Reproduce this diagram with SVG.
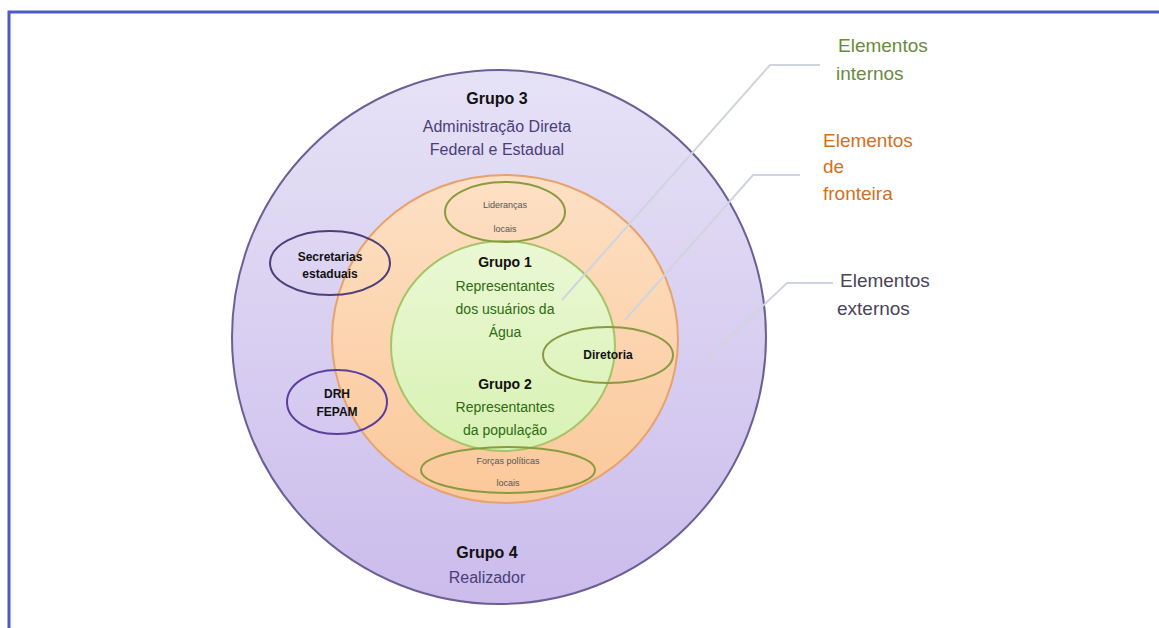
<svg xmlns="http://www.w3.org/2000/svg" width="1159" height="628" viewBox="0 0 1159 628">
<defs>
<linearGradient id="gPurple" x1="0" y1="0" x2="0" y2="1">
<stop offset="0" stop-color="#e6e2f6"/>
<stop offset="1" stop-color="#cbbcec"/>
</linearGradient>
<linearGradient id="gOrange" x1="0" y1="0" x2="0" y2="1">
<stop offset="0" stop-color="#fde0c4"/>
<stop offset="1" stop-color="#fbc89a"/>
</linearGradient>
<linearGradient id="gGreen" x1="0" y1="0" x2="0" y2="1">
<stop offset="0" stop-color="#eaf8d4"/>
<stop offset="1" stop-color="#d8f2b4"/>
</linearGradient>
</defs>
<style>
text{font-family:"Liberation Sans",Arial,sans-serif;text-anchor:middle}
.hd{font-size:16px;fill:#111;font-weight:bold}
.pu{font-size:16px;fill:#4a3e78}
.gr{font-size:14px;fill:#2f6a12}
.bk{font-size:12px;fill:#111;font-weight:bold}
.sm{font-size:9px;fill:#555}
.lbl{font-size:19px;text-anchor:start}
.conn{fill:none;stroke:#d0d4de;stroke-width:2}
</style>
<rect x="0" y="0" width="1159" height="628" fill="#ffffff"/>
<path d="M9 628 V12 H1159" fill="none" stroke="#4d5cc4" stroke-width="3"/>

<g id="grupo3-4">
<circle cx="499" cy="337" r="267" fill="url(#gPurple)" stroke="#6d5f94" stroke-width="2"/>
<text class="hd" x="497" y="104">Grupo 3</text>
<text class="pu" x="497" y="132">Administração Direta</text>
<text class="pu" x="497" y="155">Federal e Estadual</text>
<text class="hd" x="487" y="558">Grupo 4</text>
<text class="pu" x="487" y="583">Realizador</text>
</g>

<g id="fronteira">
<ellipse cx="505" cy="339" rx="173" ry="164" fill="url(#gOrange)" stroke="#e7a26e" stroke-width="2"/>
</g>

<g id="grupo1-2">
<ellipse cx="503" cy="346" rx="112" ry="105" fill="url(#gGreen)" stroke="#a6c466" stroke-width="2"/>
<text class="hd" x="505" y="267" style="font-size:14px">Grupo 1</text>
<text class="gr" x="505" y="291">Representantes</text>
<text class="gr" x="505" y="314">dos usuários da</text>
<text class="gr" x="505" y="337">Água</text>
<text class="hd" x="505" y="389" style="font-size:14px">Grupo 2</text>
<text class="gr" x="505" y="412">Representantes</text>
<text class="gr" x="505" y="435">da população</text>
</g>

<g id="liderancas">
<ellipse cx="505" cy="212" rx="60" ry="30" fill="none" stroke="#8a9a40" stroke-width="2"/>
<text class="sm" x="505" y="208">Lideranças</text>
<text class="sm" x="505" y="232">locais</text>
</g>

<g id="secretarias">
<ellipse cx="330" cy="263" rx="60" ry="32" fill="none" stroke="#4e3f78" stroke-width="2"/>
<text class="bk" x="330" y="261">Secretarias</text>
<text class="bk" x="330" y="278">estaduais</text>
</g>

<g id="diretoria">
<ellipse cx="608" cy="355" rx="65" ry="28" fill="none" stroke="#8a9a40" stroke-width="2"/>
<text class="bk" x="608" y="359">Diretoria</text>
</g>

<g id="drh-fepam">
<ellipse cx="337" cy="402" rx="50" ry="32" fill="none" stroke="#5a3ea0" stroke-width="2"/>
<text class="bk" x="337" y="398">DRH</text>
<text class="bk" x="337" y="416">FEPAM</text>
</g>

<g id="forcas">
<ellipse cx="508" cy="470" rx="87" ry="23" fill="none" stroke="#8a9a40" stroke-width="2"/>
<text class="sm" x="508" y="464">Forças políticas</text>
<text class="sm" x="508" y="486">locais</text>
</g>

<g id="connectors">
<path class="conn" d="M820 65 H770 L562 300"/>
<path class="conn" d="M800 175 H753 L625 320"/>
<path class="conn" d="M833 283 H787 L700 365"/>
</g>

<g id="legend">
<text class="lbl" x="838" y="52" fill="#6b8a3c">Elementos</text>
<text class="lbl" x="836" y="80" fill="#6b8a3c">internos</text>
<text class="lbl" x="823" y="147" fill="#d2701e">Elementos</text>
<text class="lbl" x="823" y="173" fill="#d2701e">de</text>
<text class="lbl" x="823" y="200" fill="#d2701e">fronteira</text>
<text class="lbl" x="840" y="287" fill="#4a4458">Elementos</text>
<text class="lbl" x="837" y="315" fill="#4a4458">externos</text>
</g>
</svg>
